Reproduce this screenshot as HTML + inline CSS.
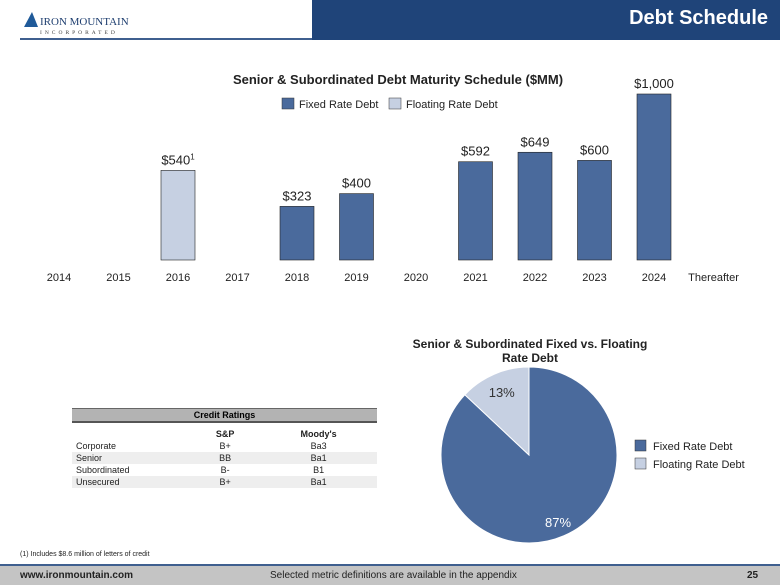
<!DOCTYPE html>
<html><head><meta charset="utf-8"><style>
body{margin:0;width:780px;height:585px;position:relative;background:#fff;font-family:"Liberation Sans",Arial,sans-serif;overflow:hidden}
.abs{position:absolute}
table{border-collapse:collapse;font-size:9px;color:#222}
td{padding:0 4px;height:12px}
</style></head><body>
<div class="abs" style="left:312px;top:0;width:468px;height:40px;background:#1f4479"></div>
<div class="abs" style="left:20px;top:38px;width:292px;height:2px;background:#3f5f8f"></div>
<div class="abs" style="right:12px;top:7px;color:#fff;font-size:20px;font-weight:bold">Debt Schedule</div>
<div class="abs" style="left:24px;top:12px">
<svg width="110" height="24"><polygon points="0,15 8,0 14,15" fill="#1f5a99"/><text x="16" y="13" font-family="Liberation Serif,serif" font-size="11" fill="#1f3f70">IRON MOUNTAIN</text><text x="16" y="22" font-family="Liberation Serif,serif" font-size="5.5" letter-spacing="3" fill="#444">INCORPORATED</text></svg></div>

<svg class="abs" style="left:0;top:0" width="780" height="300" id="bar">
<text x="398" y="84" text-anchor="middle" font-size="13" font-weight="bold" fill="#222">Senior &amp; Subordinated Debt Maturity Schedule ($MM)</text>
<rect x="282" y="98" width="12" height="11" fill="#4a6a9c" stroke="#333" stroke-width="0.5"/>
<text x="299" y="108" font-size="11" fill="#222">Fixed Rate Debt</text>
<rect x="389" y="98" width="12" height="11" fill="#c6d0e2" stroke="#333" stroke-width="0.5"/>
<text x="406" y="108" font-size="11" fill="#222">Floating Rate Debt</text>
</svg>

<div class="abs" style="left:72px;top:408px;width:305px">
<div style="background:#b3b3b3;border-top:1px solid #666;border-bottom:2px solid #555;text-align:center;font-size:9px;font-weight:bold;height:12px;line-height:12px">Credit Ratings</div>
<table style="width:305px;margin-top:5px">
<tr style="font-weight:bold"><td style="width:110px"></td><td style="text-align:center">S&amp;P</td><td style="text-align:center">Moody's</td></tr>
<tr><td>Corporate</td><td style="text-align:center">B+</td><td style="text-align:center">Ba3</td></tr>
<tr style="background:#eee"><td>Senior</td><td style="text-align:center">BB</td><td style="text-align:center">Ba1</td></tr>
<tr><td>Subordinated</td><td style="text-align:center">B-</td><td style="text-align:center">B1</td></tr>
<tr style="background:#eee"><td>Unsecured</td><td style="text-align:center">B+</td><td style="text-align:center">Ba1</td></tr>
</table></div>

<svg class="abs" style="left:380px;top:330px" width="400" height="230" id="pie">
<text x="150" y="18" text-anchor="middle" font-size="12" font-weight="bold" fill="#222">Senior &amp; Subordinated Fixed vs. Floating</text>
<text x="150" y="32" text-anchor="middle" font-size="12" font-weight="bold" fill="#222">Rate Debt</text>
<rect x="255" y="110" width="11" height="11" fill="#4a6a9c" stroke="#333" stroke-width="0.5"/>
<text x="273" y="120" font-size="11" fill="#222">Fixed Rate Debt</text>
<rect x="255" y="128" width="11" height="11" fill="#c6d0e2" stroke="#333" stroke-width="0.5"/>
<text x="273" y="138" font-size="11" fill="#222">Floating Rate Debt</text>
</svg>

<div class="abs" style="left:20px;top:551px;font-size:7px;color:#222">(1) Includes $8.6 million of letters of credit</div>
<div class="abs" style="left:0;top:564px;width:780px;height:2px;background:#3f5f8f"></div>
<div class="abs" style="left:0;top:566px;width:780px;height:19px;background:#c4c4c4"></div>
<div class="abs" style="left:20px;top:570px;font-size:10px;font-weight:bold;color:#222">www.ironmountain.com</div>
<div class="abs" style="left:270px;top:570px;font-size:10px;color:#222">Selected metric definitions are available in the appendix</div>
<div class="abs" style="left:747px;top:570px;font-size:10px;font-weight:bold;color:#222">25</div>

<script>
const categories=["2014","2015","2016","2017","2018","2019","2020","2021","2022","2023","2024","Thereafter"];
const fixedValues=[0,0,0,0,323,400,0,592,649,600,1000,0];
const floatingValues=[0,0,540,0,0,0,0,0,0,0,0,0];
const valueLabels=["","","$540","","$323","$400","","$592","$649","$600","$1,000",""];
const pieLabels=["Fixed Rate Debt","Floating Rate Debt"];
const pieValues=[87,13];
const NS="http://www.w3.org/2000/svg";
function mk(p,t,a){const e=document.createElementNS(NS,t);for(const k in a)e.setAttribute(k,a[k]);p.appendChild(e);return e;}
const bar=document.getElementById('bar');
const base=260,x0=59,step=59.5,bw=34;
const xs=i=>x0+i*step, ys=v=>base-v*0.166;
categories.forEach((c,i)=>{
  const t=mk(bar,'text',{x:xs(i),y:281,'text-anchor':'middle','font-size':11,fill:'#222'});
  t.textContent=c;
  
  
  const v=fixedValues[i]+floatingValues[i];
  if(v>0){
    const fl=floatingValues[i]>0;
    const r=mk(bar,'rect',{x:xs(i)-bw/2,y:ys(v),width:bw,height:base-ys(v),fill:fl?'#c6d0e2':'#4a6a9c',stroke:'#222','stroke-width':0.6});
    
    
    const l=mk(bar,'text',{x:xs(i),y:ys(v)-6,'text-anchor':'middle','font-size':13,fill:'#222'});
    l.textContent=valueLabels[i];
    
    
    if(fl){const s=mk(l,'tspan',{'font-size':8,dy:-5});s.textContent='1';}
  }
});
const pie=document.getElementById('pie');
const cx=149,cy=125,R=88,tot=pieValues.reduce((a,b)=>a+b,0);
let ang=0;
const cols=['#4a6a9c','#c6d0e2'],tcol=['#fff','#333'];
pieValues.forEach((v,i)=>{
  const a0=ang,a1=ang+v/tot*2*Math.PI;ang=a1;
  const p=a=>[cx+R*Math.sin(a),cy-R*Math.cos(a)];
  const [x1,y1]=p(a0),[x2,y2]=p(a1);
  const s=mk(pie,'path',{d:`M${cx},${cy}L${x1},${y1}A${R},${R} 0 ${a1-a0>Math.PI?1:0} 1 ${x2},${y2}Z`,fill:cols[i],stroke:'#fff','stroke-width':1});
  
  
  const m=(a0+a1)/2,rr=i?R*0.78:R*0.83;
  const t=mk(pie,'text',{x:cx+rr*Math.sin(m),y:cy-rr*Math.cos(m)+5,'text-anchor':'middle','font-size':13,fill:tcol[i]});
  t.textContent=v+'%';
  
  
});
</script>
</body></html>
